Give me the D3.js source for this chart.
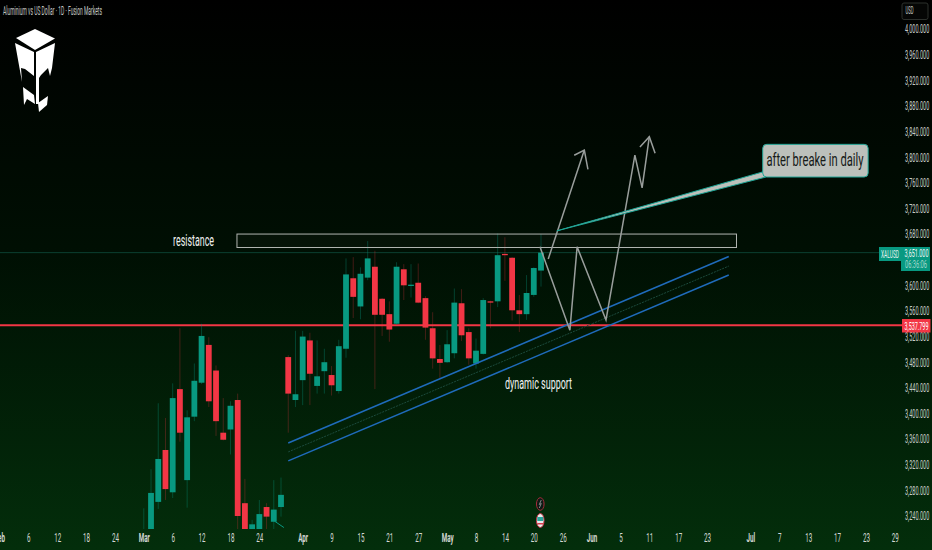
<!DOCTYPE html>
<html>
<head>
<meta charset="utf-8">
<script src="https://cdn.jsdelivr.net/npm/d3@7"></script>
<style>
  html, body { margin: 0; padding: 0; background: #000; overflow: hidden; }
  text { font-family: Roboto, "Liberation Sans", sans-serif; }
</style>
</head>
<body>
<div class="viz"></div>
<script>
// candles (bar 0 is the first wick left of Mar)
var opens  = [3195,3215,3262,3343,3277,3438,3296,3395,3448,3507,3467,3370,3375,3421,3260,3205,3200,3254,3231,3254,3488,3421,3452,3514,3443,3466,3460,3435,3501,3611,3567,3612,3629,3579,3555,3540,3625,3599,3604,3580,3533,3485,3480,3494,3572,3527,3478,3493,3575,3575,3649,3643,3561,3555,3585,3623];
var highs  = [3252,3313,3416,3393,3447,3533,3405,3478,3540,3519,3475,3424,3419,3431,3298,3234,3265,3260,3296,3300,3491,3529,3529,3526,3514,3501,3474,3515,3642,3644,3628,3669,3654,3580,3575,3636,3633,3633,3634,3583,3558,3507,3530,3595,3594,3533,3517,3580,3576,3681,3675,3644,3585,3616,3628,3680];
var lows   = [3190,3210,3251,3265,3268,3356,3253,3388,3446,3410,3365,3358,3336,3210,3195,3195,3190,3210,3205,3239,3370,3410,3413,3413,3431,3431,3428,3431,3487,3549,3547,3608,3438,3521,3512,3538,3577,3581,3572,3515,3470,3454,3479,3486,3513,3476,3470,3492,3533,3566,3607,3545,3527,3546,3582,3598];
var closes = [3215,3276,3329,3282,3424,3370,3394,3451,3521,3419,3388,3359,3412,3240,3205,3227,3243,3239,3250,3273,3431,3430,3520,3462,3458,3480,3444,3505,3617,3582,3618,3642,3554,3554,3531,3629,3600,3601,3573,3534,3486,3479,3508,3573,3522,3486,3498,3577,3573,3647,3647,3561,3555,3588,3627,3651];

// axis labels
var priceTicks = [4000,3960,3920,3880,3840,3800,3760,3720,3680,3600,3560,3520,3480,3440,3400,3360,3320,3280,3240];
var timeBars   = [-20,-16,-12,-8,-4,0,4,8,12,16,22,26,30,34,38,42,46,50,54,58,62,66,70,74,78,84,88,92,96,100,104];
var timeLabels = ['Feb','6','12','18','24','Mar','6','12','18','24','Apr','9','15','21','27','May','8','14','20','26','Jun','5','11','17','23','Jul','7','13','17','23','29'];
var monthLabels = ['Feb','Mar','Apr','May','Jun','Jul'];

// drawings, as [bar, price]
var supportPrice = 3537.799;
var lastPrice = 3651;
var channelTop = [[20,3354],[81,3645]];
var channelMid = [[20,3340],[81,3630]];
var channelLow = [[20,3326],[81,3616]];
var zoneBars = [12.9,82.07];
var zonePrices = [3680,3659];
var zigzag = [[54.86,3660],[59,3530],[60,3660],[64,3546],[68,3803],[69,3752],[70,3832]];
var zigzagHead = [[68.7,3816],[70,3832],[70.8,3806]];
var arrowLine = [[56,3641],[61,3811]];
var arrowHead = [[59.6,3803],[61,3811],[61.5,3781]];
var calloutBars = [85.7,100.3];
var calloutPrices = [3820,3769];
var calloutTail = [[85.7,3777],[57.2,3685],[86.15,3769]];
var tealStub = [[18.1,3232],[19.4,3222]];

var width = 932, height = 550;

var x = d3.scaleLinear().domain([0,55]).range([143.8,541]);
var y = d3.scaleLinear().domain([4000,3240]).range([29,516]);
var toPoints = d3.line().x(function(d){ return x(d[0]) }).y(function(d){ return y(d[1]) });

var svg = d3.select('.viz').append('svg')
  .attr('width', width)
  .attr('height', height)
  .style('display', 'block');

var defs = svg.append('defs');
var grad = defs.append('linearGradient')
  .attr('id', 'bg')
  .attr('x1', 0).attr('y1', 0).attr('x2', 0).attr('y2', 1);
grad.append('stop').attr('offset', '0%').attr('stop-color', '#000000');
grad.append('stop').attr('offset', '45%').attr('stop-color', '#000f03');
grad.append('stop').attr('offset', '100%').attr('stop-color', '#032e0b');

defs.append('clipPath').attr('id', 'pane')
  .append('rect').attr('width', 902).attr('height', 529);

svg.append('rect')
  .attr('width', width)
  .attr('height', height)
  .attr('fill', 'url(#bg)');

function note(text, cx, cy, size, w, color){
  svg.append('text')
    .attr('x', cx - w/2).attr('y', cy)
    .attr('font-size', size)
    .attr('fill', color)
    .attr('textLength', w)
    .attr('lengthAdjust', 'spacingAndGlyphs')
    .text(text);
}

/* title and logo */
note('Aluminium vs US Dollar · 1D · Fusion Markets', 52.5, 14.5, 12, 99, '#c6cac6');

var logo = [
  [[16,38],[35,29],[55,38.5],[35,50]],
  [[15,43],[34,52],[34,76],[25,69],[21,68],[22,82]],
  [[23,87],[34,95],[35,104],[27,99],[24,105]],
  [[36,52],[55,43],[52,68],[50,76],[48,68],[41,75],[39,78],[39,104],[36,104]],
  [[38,103],[48,96],[47,105],[39,112]]
];
svg.append('g').selectAll('polygon')
  .data(logo)
  .enter()
  .append('polygon')
  .attr('points', function(d){ return d.join(' ') })
  .attr('fill', '#ffffff');

var pane = svg.append('g').attr('clip-path', 'url(#pane)');

/* last price and support lines */
pane.append('line')
  .attr('x1', 0).attr('x2', 879)
  .attr('y1', y(lastPrice)).attr('y2', y(lastPrice))
  .attr('stroke', '#0b3f30')
  .attr('stroke-width', 1);

pane.append('line')
  .attr('x1', 0).attr('x2', 902)
  .attr('y1', y(supportPrice)).attr('y2', y(supportPrice))
  .attr('stroke', '#f23645')
  .attr('stroke-width', 2);

/* candles */
var bars = pane.append('g').selectAll('g')
  .data(opens)
  .enter()
  .append('g');

bars.append('line')
  .attr('x1', function(d,i){ return x(i) })
  .attr('x2', function(d,i){ return x(i) })
  .attr('y1', function(d,i){ return y(highs[i]) })
  .attr('y2', function(d,i){ return y(lows[i]) })
  .attr('stroke', function(d,i){
    return closes[i] >= opens[i] ? 'rgba(8,153,129,0.35)' : 'rgba(242,54,69,0.28)'
  })
  .attr('stroke-width', 1);

bars.append('rect')
  .attr('x', function(d,i){ return x(i) - 2.9 })
  .attr('width', 5.8)
  .attr('y', function(d,i){ return y(Math.max(opens[i], closes[i])) })
  .attr('height', function(d,i){ return Math.max(1, Math.abs(y(opens[i]) - y(closes[i]))) })
  .attr('fill', function(d,i){ return closes[i] >= opens[i] ? '#089981' : '#f23645' });

/* channel */
pane.append('path').attr('d', toPoints(channelMid))
  .attr('fill', 'none').attr('stroke', '#1c4a3c').attr('stroke-width', 1).attr('stroke-dasharray', '2,1');
[channelTop, channelLow].forEach(function(c){
  pane.append('path').attr('d', toPoints(c))
    .attr('fill', 'none').attr('stroke', '#1f6bbb').attr('stroke-width', 1.5);
})

pane.append('path').attr('d', toPoints(tealStub))
  .attr('fill', 'none').attr('stroke', '#089981').attr('stroke-width', 1);

/* resistance zone */
pane.append('rect')
  .attr('x', x(zoneBars[0]))
  .attr('width', x(zoneBars[1]) - x(zoneBars[0]))
  .attr('y', y(zonePrices[0]))
  .attr('height', y(zonePrices[1]) - y(zonePrices[0]))
  .attr('fill', 'rgba(255,255,255,0.02)')
  .attr('stroke', '#b2b6b2')
  .attr('stroke-width', 1);

/* projected paths */
[zigzag, zigzagHead, arrowLine, arrowHead].forEach(function(p){
  pane.append('path').attr('d', toPoints(p))
    .attr('fill', 'none')
    .attr('stroke', '#999e9c')
    .attr('stroke-width', 1.5)
    .attr('stroke-linejoin', 'miter');
})

/* callout */
pane.append('path')
  .attr('d', toPoints(calloutTail) + 'Z')
  .attr('fill', '#bcc0bb')
  .attr('stroke', '#1fa596')
  .attr('stroke-width', 1);

pane.append('rect')
  .attr('x', x(calloutBars[0]))
  .attr('width', x(calloutBars[1]) - x(calloutBars[0]))
  .attr('y', y(calloutPrices[0]))
  .attr('height', y(calloutPrices[1]) - y(calloutPrices[0]))
  .attr('rx', 4)
  .attr('fill', '#bcc0bb')
  .attr('stroke', '#1fa596')
  .attr('stroke-width', 1);

note('after breake in daily', 815, 166, 18, 97, '#161a18');
note('resistance', 193.5, 246, 16, 41, '#f0f2f0');
note('dynamic support', 538.5, 389, 16, 67, '#f0f2f0');

/* event markers */
var eventX = x(54.9);
svg.append('ellipse').attr('cx', eventX).attr('cy', 504).attr('rx', 3.8).attr('ry', 6.3)
  .attr('fill', '#0b1a14').attr('stroke', '#a82c3c').attr('stroke-width', 1);
svg.append('path')
  .attr('d', d3.line()([[eventX + 1, 500], [eventX - 1, 504.5], [eventX + 1, 503.5], [eventX - 1, 508]]))
  .attr('fill', 'none').attr('stroke', '#9a9ea2').attr('stroke-width', 0.8);
svg.append('ellipse').attr('cx', eventX).attr('cy', 520.5).attr('rx', 3.8).attr('ry', 7)
  .attr('fill', '#e8ecec').attr('stroke', '#c22f42').attr('stroke-width', 1);
svg.append('rect').attr('x', eventX - 3).attr('y', 517).attr('width', 6).attr('height', 4).attr('fill', '#2aa59b');
svg.append('rect').attr('x', eventX - 3).attr('y', 523).attr('width', 6).attr('height', 1.5).attr('fill', '#d83a4c');

/* axes */
var priceAxis = d3.axisRight(y)
  .tickValues(priceTicks)
  .tickSize(0)
  .tickFormat(d3.format(',.3f'));

var gPrice = svg.append('g').attr('class', 'priceAxis').call(priceAxis);
gPrice.select('.domain').remove();
gPrice.selectAll('text')
  .attr('x', 0)
  .attr('dy', '0.32em')
  .attr('font-size', 12)
  .attr('fill', '#c8ccc8')
  .attr('transform', 'translate(905,0) scale(0.46,1)');

var timeAxis = d3.axisBottom(x)
  .tickValues(timeBars)
  .tickSize(0)
  .tickFormat(function(d,i){ return timeLabels[i] });

var gTime = svg.append('g').attr('class', 'timeAxis')
  .attr('transform', 'translate(0,533)')
  .call(timeAxis);
gTime.select('.domain').remove();
gTime.selectAll('text')
  .attr('y', 0)
  .attr('dy', '0.71em')
  .attr('font-size', 12)
  .attr('font-weight', function(d,i){ return monthLabels.indexOf(timeLabels[i]) >= 0 ? 700 : 400 })
  .attr('fill', '#d4d8d4')
  .attr('transform', 'scale(0.52,1)');

/* price tags */
svg.append('rect').attr('x', 902).attr('y', 3).attr('width', 26).attr('height', 16.5).attr('rx', 2)
  .attr('fill', '#050605').attr('stroke', '#2c302c');
note('USD', 909.5, 14, 10, 8, '#c8ccc8');

svg.append('rect').attr('x', 879).attr('y', 247).attr('width', 22).attr('height', 14)
  .attr('fill', '#089981');
note('XALUSD', 890, 257.5, 11, 18, '#e6f3f0');

svg.append('rect').attr('x', 901).attr('y', 247).attr('width', 29).attr('height', 24)
  .attr('fill', '#089981');
note('3,651.000', 916.5, 257, 11, 24, '#f0f7f5');
note('06:36:06', 916, 268, 10, 22, '#a5d8cd');

svg.append('rect').attr('x', 902).attr('y', 319).attr('width', 28.5).attr('height', 13.5)
  .attr('fill', '#f23645');
note('3,537.799', 916.5, 329.5, 11, 24, '#ffffff');
</script>
</body>
</html>
